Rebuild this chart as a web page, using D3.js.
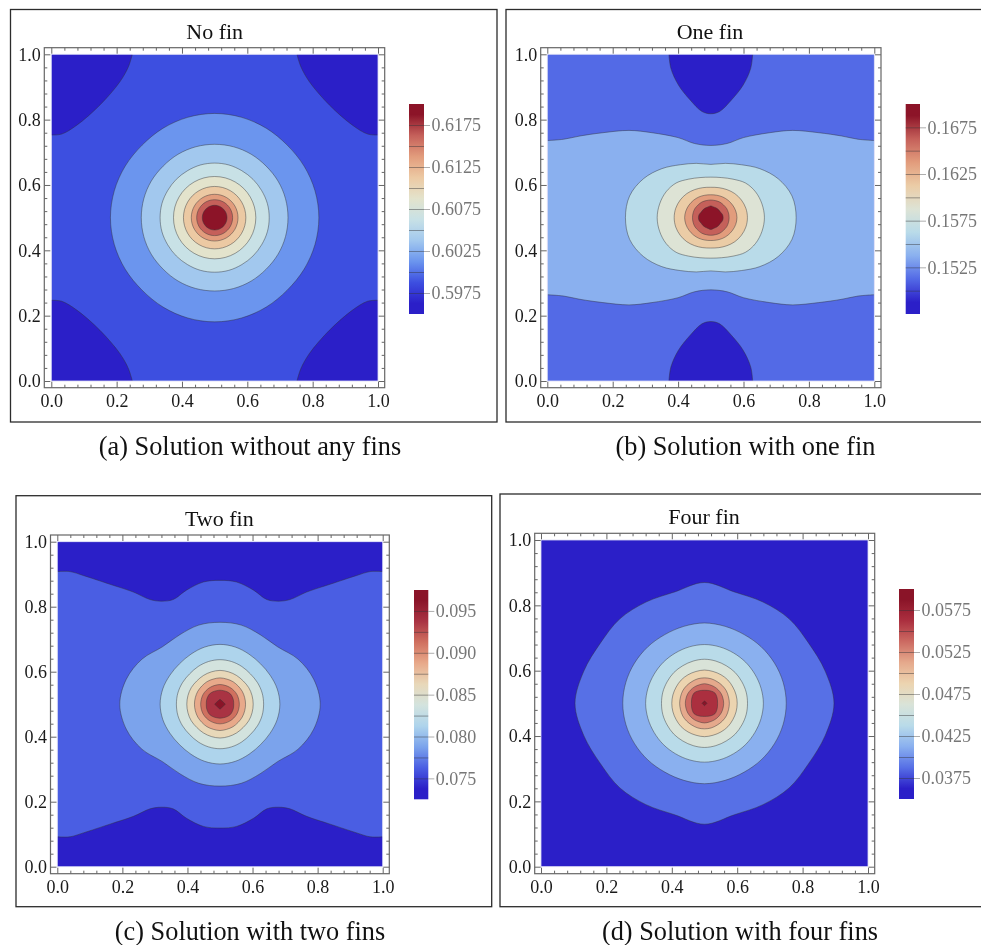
<!DOCTYPE html>
<html>
<head>
<meta charset="utf-8">
<script src="https://cdn.jsdelivr.net/npm/d3@7"></script>
<style>
html,body{margin:0;padding:0;background:#fff}
svg{display:block;filter:blur(0.45px)}
text{font-family:"Liberation Serif",serif}
</style>
</head>
<body>
<svg id="chart" width="981" height="945"></svg>
<script>
// ---------- data ----------
const titles = ["No fin","One fin","Two fin","Four fin"];
const captions = ["(a) Solution without any fins","(b) Solution with one fin","(c) Solution with two fins","(d) Solution with four fins"];
const axisTicks = [0,0.2,0.4,0.6,0.8,1];
const axisMinorTicks = [0.04,0.08,0.12,0.16,0.24,0.28,0.32,0.36,0.44,0.48,0.52,0.56,0.64,0.68,0.72,0.76,0.84,0.88,0.92,0.96];

// colour-bar ranges, contour levels and labelled ticks
const rangeA = [0.595,0.62];
const levelsA = [0.5975,0.6,0.6025,0.605,0.6075,0.61,0.6125,0.615,0.6175];
const labelsA = [0.5975,0.6025,0.6075,0.6125,0.6175];
const rangeB = [0.1475,0.17];
const levelsB = [0.15,0.1525,0.155,0.1575,0.16,0.1625,0.165,0.1675];
const labelsB = [0.1525,0.1575,0.1625,0.1675];
const rangeC = [0.0725,0.0975];
const levelsC = [0.075,0.0775,0.08,0.0825,0.085,0.0875,0.09,0.0925,0.095];
const labelsC = [0.075,0.08,0.085,0.09,0.095];
const rangeD = [0.035,0.06];
const levelsD = [0.0375,0.04,0.0425,0.045,0.0475,0.05,0.0525,0.055,0.0575];
const labelsD = [0.0375,0.0425,0.0475,0.0525,0.0575];

// band fill colours, lowest band first
const bandsA = ["#2b1fc8","#3d4fe0","#6b95ee","#a2c8ee","#c8e1e6","#e3e3cc","#ecc9a3","#e29c7c","#c5605a","#8c1428"];
const bandsB = ["#2b1fc8","#536ae6","#8ab0ef","#b9dbe9","#dde3d5","#ebcca6","#e29c7c","#c5605a","#8c1428"];
const bandsC = ["#2b1fc8","#4a5ee3","#7ba3ec","#aed4ec","#d3e3de","#e8d8b9","#e8a98a","#d0705f","#a93343","#8a1428"];
const bandsD = ["#2b1fc8","#5770e6","#8ab0ef","#b9dbe9","#d9e3d8","#ecd4b0","#e5a98c","#cc6a62","#ab2f3f","#8a1428"];

// closed contours around (0.5,0.5): radii read at evenly spaced angles from 0 to 90 degrees, outer contour first
const ringsA = [
 [.319,.318,.316,.314,.316,.318,.319],
 [.2245,.2245,.224,.223,.224,.2245,.2245],
 [.167,.167,.166,.166,.166,.167,.167],
 [.126,.126,.126,.126,.126,.126,.126],
 [.0955,.0955,.0955,.0955,.0955,.0955,.0955],
 [.0715,.0715,.0715,.0715,.0715,.0715,.0715],
 [.055,.055,.055,.055,.055,.055,.055],
 [.0378,.0378,.0378,.0378,.0378,.0378,.0378]
];
const ringsB = [
 [.261,.257,.238,.212,.187,.172,.163],
 [.164,.162,.158,.150,.136,.127,.124],
 [.112,.111,.108,.104,.099,.095,.093],
 [.080,.079,.077,.075,.073,.071,.070],
 [.056,.056,.056,.055,.055,.054,.054],
 [.0378,.037,.034,.034,.034,.034,.036]
];
const ringsC = [
 [.308,.298,.277,.250,.247,.252,.252],
 [.184,.182,.178,.176,.178,.182,.184],
 [.134,.134,.133,.132,.134,.136,.137],
 [.102,.102,.102,.101,.102,.103,.104],
 [.0785,.0785,.079,.079,.080,.080,.081],
 [.0594,.0594,.060,.060,.060,.060,.0605],
 [.042,.043,.044,.045,.044,.043,.043],
 [.0164,.0115,.0154]
];
const ringsD = [
 [.396,.382,.368,.366,.358,.353,.370],
 [.250,.249,.247,.245,.243,.244,.246],
 [.180,.179,.178,.178,.178,.179,.180],
 [.1315,.132,.132,.133,.133,.134,.135],
 [.100,.100,.100,.101,.101,.101,.102],
 [.076,.076,.077,.077,.077,.078,.078],
 [.0586,.0586,.059,.059,.059,.059,.060],
 [.040,.041,.043,.045,.043,.041,.040],
 [.0076,.0054,.0076]
];

// open contours (upper-left quarter of the plot, x from the left edge toward the middle)
const cornerA = [[0,.753],[.032,.756],[.078,.783],[.149,.845],[.21,.916],[.236,.962],[.248,1]];
const waveB = [[0,.736],[.05,.74],[.1,.75],[.17,.76],[.25,.767],[.32,.76],[.4,.745],[.45,.727],[.5,.721]];
const blobB = [[.372,1],[.378,.957],[.401,.906],[.437,.86],[.473,.825],[.5,.818]];
const waveC = [[0,.908],[.039,.908],[.08,.896],[.162,.869],[.234,.845],[.285,.822],[.32,.817],[.356,.822],[.397,.851],[.449,.876],[.5,.881]];

// ---------- layout ----------
const panels = [
 {title:0,frame:[10.5,9.5,497,422],plot:[44.3,47.7,384.7,387.7],data:[51.3,54.3,378,381],bar:[409,104,424,314],titleAt:[214.7,39],capAt:[250,455],
  range:rangeA,levels:levelsA,labels:labelsA,bands:bandsA,rings:ringsA,base:1,ringStart:2,fmt:".4f",
  opens:[{pts:cornerA,band:0,mirror:"corners"}]},
 {title:1,frame:[506,9.5,990,422],plot:[540.7,47.7,881,387.7],data:[547.3,54.3,874.3,381],bar:[905.7,104,920,314],titleAt:[710,39],capAt:[745.5,455],
  range:rangeB,levels:levelsB,labels:labelsB,bands:bandsB,rings:ringsB,base:2,ringStart:3,fmt:".4f",
  opens:[{pts:waveB,band:1,mirror:"span"},{pts:blobB,band:0,mirror:"span"}]},
 {title:2,frame:[16,495.7,491.7,906.7],plot:[50.5,535,389.3,873.7],data:[57.3,541.7,382.7,866.7],bar:[414,590,428.3,799.3],titleAt:[219.3,525.7],capAt:[250,940],
  range:rangeC,levels:levelsC,labels:labelsC,bands:bandsC,rings:ringsC,base:1,ringStart:2,fmt:".3f",
  opens:[{pts:waveC,band:0,mirror:"span"}]},
 {title:3,frame:[500,494,990,906.7],plot:[534.7,533.3,874.7,873.7],data:[541,540,868,866.7],bar:[899,589,914,799],titleAt:[704,524],capAt:[740,940],
  range:rangeD,levels:levelsD,labels:labelsD,bands:bandsD,rings:ringsD,base:0,ringStart:1,fmt:".4f",
  opens:[]}
];

const svg = d3.select("#chart");
const defs = svg.append("defs");
const LINE = "rgba(50,50,55,0.5)";

panels.forEach((p,pi)=>{
  const [dx0,dy0,dx1,dy1] = p.data;
  const x = d3.scaleLinear().domain([0,1]).range([dx0,dx1]);
  const y = d3.scaleLinear().domain([0,1]).range([dy1,dy0]);
  const g = svg.append("g");

  // outer box, title, caption
  g.append("rect").attr("x",p.frame[0]).attr("y",p.frame[1]).attr("width",p.frame[2]-p.frame[0]).attr("height",p.frame[3]-p.frame[1])
    .attr("fill","#fff").attr("stroke","#2c2c2c").attr("stroke-width",1.3);
  g.append("text").attr("x",p.titleAt[0]).attr("y",p.titleAt[1]).attr("text-anchor","middle").attr("font-size",22).attr("fill","#111").text(titles[p.title]);
  g.append("text").attr("x",p.capAt[0]).attr("y",p.capAt[1]).attr("text-anchor","middle").attr("font-size",26.3).attr("fill","#111").text(captions[p.title]);

  // clip
  const cid = "clip"+pi;
  defs.append("clipPath").attr("id",cid).append("rect").attr("x",dx0).attr("y",dy0).attr("width",dx1-dx0).attr("height",dy1-dy0);

  // data area
  const area = g.append("g").attr("clip-path",`url(#${cid})`);
  area.append("rect").attr("x",dx0).attr("y",dy0).attr("width",dx1-dx0).attr("height",dy1-dy0).attr("fill",p.bands[p.base]);

  // open contours: filled toward the nearest edge
  const drawOpen = (pts,band)=>{
    const top = pts[0][1] > 0.5;
    const edge = top ? 1 : 0;
    const ar = d3.area().x(d=>x(d[0])).y0(d=>y(d[1])).y1(y(edge)).curve(d3.curveCatmullRom.alpha(0.5));
    const ln = d3.line().x(d=>x(d[0])).y(d=>y(d[1])).curve(d3.curveCatmullRom.alpha(0.5));
    area.append("path").attr("d",ar(pts)).attr("fill",p.bands[band]);
    area.append("path").attr("d",ln(pts)).attr("fill","none").attr("stroke",LINE).attr("stroke-width",0.9);
  };
  p.opens.forEach(o=>{
    const flipY = o.pts.map(d=>[d[0],1-d[1]]);
    if(o.mirror==="corners"){
      const flipX = a=>a.map(d=>[1-d[0],d[1]]).reverse();
      [o.pts,flipY,flipX(o.pts),flipX(flipY)].forEach(a=>drawOpen(a,o.band));
    } else {
      const whole = a=>a.concat(a.slice(0,-1).reverse().map(d=>[1-d[0],d[1]]));
      [whole(o.pts),whole(flipY)].forEach(a=>drawOpen(a,o.band));
    }
  });

  // closed contours, outer to inner
  p.rings.forEach((radii,i)=>{
    const n = radii.length-1;
    const quarter = radii.map((r,k)=>{const t=(k/n)*Math.PI/2;return [r*Math.cos(t),r*Math.sin(t)];});
    const q2 = quarter.slice(0,-1).reverse().map(d=>[-d[0],d[1]]);
    const q3 = quarter.slice(1).map(d=>[-d[0],-d[1]]);
    const q4 = quarter.slice(1,-1).reverse().map(d=>[d[0],-d[1]]);
    const loop = quarter.concat(q2,q3,q4).map(d=>[0.5+d[0],0.5+d[1]]);
    const curve = n<3 ? d3.curveLinearClosed : d3.curveCatmullRomClosed.alpha(0.5);
    const ln = d3.line().x(d=>x(d[0])).y(d=>y(d[1])).curve(curve);
    area.append("path").attr("d",ln(loop)).attr("fill",p.bands[p.ringStart+i]).attr("stroke",LINE).attr("stroke-width",0.9);
  });

  g.append("rect").attr("x",dx0).attr("y",dy0).attr("width",dx1-dx0).attr("height",dy1-dy0)
    .attr("fill","none").attr("stroke","#d9d9f6").attr("stroke-width",0.8);

  // frame + ticks
  const [fx0,fy0,fx1,fy1] = p.plot;
  const styleAxis = (sel,col)=>{
    sel.select(".domain").remove();
    sel.selectAll(".tick line").attr("stroke",col||"#555").attr("stroke-width",0.9);
  };
  const bottom = (vals,len,lab)=>d3.axisBottom(x).tickValues(vals).tickSize(-len).tickPadding(6.5).tickFormat(lab?d3.format(".1f"):"");
  const topA = (vals,len)=>d3.axisTop(x).tickValues(vals).tickSize(-len).tickFormat("");
  const left = (vals,len,lab)=>d3.axisLeft(y).tickValues(vals).tickSize(-len).tickPadding(3.5).tickFormat(lab?d3.format(".1f"):"");
  const right = (vals,len)=>d3.axisRight(y).tickValues(vals).tickSize(-len).tickFormat("");
  const add = (ax,tx,ty)=>{
    const s = g.append("g").attr("transform",`translate(${tx},${ty})`).call(ax);
    styleAxis(s);
    s.selectAll("text").attr("font-family","Liberation Serif").attr("font-size",18).attr("fill","#1a1a1a");
  };
  add(bottom(axisTicks,6,true),0,fy1); add(bottom(axisMinorTicks,3,false),0,fy1);
  add(topA(axisTicks,6),0,fy0);        add(topA(axisMinorTicks,3),0,fy0);
  add(left(axisTicks,6,true),fx0,0);   add(left(axisMinorTicks,3,false),fx0,0);
  add(right(axisTicks,6),fx1,0);       add(right(axisMinorTicks,3),fx1,0);
  g.append("rect").attr("x",fx0).attr("y",fy0).attr("width",fx1-fx0).attr("height",fy1-fy0)
    .attr("fill","none").attr("stroke","#666").attr("stroke-width",1.2);

  // colour bar
  const [bx0,by0,bx1,by1] = p.bar;
  const [lo,hi] = p.range;
  const cb = d3.scaleLinear().domain([lo,hi]).range([by1,by0]);
  const gid = "grad"+pi;
  const grad = defs.append("linearGradient").attr("id",gid).attr("x1",0).attr("x2",0).attr("y1",1).attr("y2",0);
  const nb = p.bands.length;
  grad.append("stop").attr("offset",0).attr("stop-color",p.bands[0]);
  p.bands.forEach((c,i)=>grad.append("stop").attr("offset",(i+0.5)/nb).attr("stop-color",c));
  grad.append("stop").attr("offset",1).attr("stop-color",p.bands[nb-1]);
  g.append("rect").attr("x",bx0).attr("y",by0).attr("width",bx1-bx0).attr("height",by1-by0).attr("fill",`url(#${gid})`);
  const lv = g.append("g").attr("transform",`translate(${bx1},0)`)
    .call(d3.axisLeft(cb).tickValues(p.levels).tickSize(0).tickFormat(""));
  lv.select(".domain").remove();
  lv.selectAll(".tick line").attr("x2",-(bx1-bx0)).attr("stroke",LINE).attr("stroke-width",0.9);
  const lb = g.append("g").attr("transform",`translate(${bx1},0)`)
    .call(d3.axisRight(cb).tickValues(p.labels).tickSize(6).tickPadding(1.5).tickFormat(d3.format(p.fmt)));
  lb.select(".domain").remove();
  lb.selectAll(".tick line").attr("stroke","#999").attr("stroke-width",0.8);
  lb.selectAll("text").attr("font-family","Liberation Serif").attr("font-size",18).attr("fill","#777");
});
</script>
</body>
</html>
